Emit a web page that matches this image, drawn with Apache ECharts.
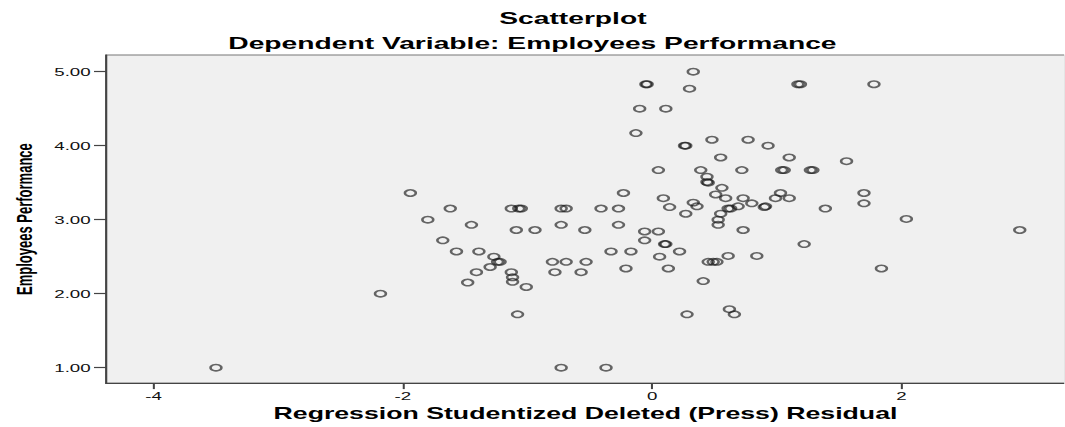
<!DOCTYPE html>
<html><head><meta charset="utf-8">
<script src="https://cdn.jsdelivr.net/npm/echarts@6/dist/echarts.min.js"></script>
<style>
html,body{margin:0;padding:0;background:#fff;overflow:hidden;}
#wrap{width:1065px;height:427px;overflow:hidden;position:relative;}
#chart{width:626.47px;height:427px;transform:scaleX(1.7);transform-origin:0 0;}
</style></head><body>
<div id="wrap"><div id="chart"></div></div>
<script>
// Regression studentized deleted (press) residual (x) and Employees Performance (y)
const residuals = [-3.50,-2.18,-1.94,-1.62,-1.80,-1.45,-1.68,-1.57,-1.39,-1.27,
  -1.22,-1.24,-1.30,-1.41,-1.48,-1.13,-1.12,-1.12,-1.01,-1.13,
  -1.07,-1.05,-1.09,-0.94,-0.73,-0.69,-0.73,-0.54,-0.41,-0.27,
  -0.23,-0.27,-0.80,-0.69,-0.53,-0.78,-0.57,-0.33,-0.17,-0.21,
  -0.06,0.05,-0.06,0.10,0.11,0.22,0.06,0.13,0.09,0.14,
  0.27,0.33,0.36,0.41,0.45,0.49,0.52,0.61,-1.08,-0.73,
  -0.37,0.28,0.62,0.66,0.33,-0.05,-0.04,0.30,-0.10,0.11,
  -0.13,0.26,0.27,0.48,0.55,0.05,0.39,0.44,0.45,0.44,
  0.56,0.51,0.59,0.61,0.55,0.53,0.53,1.17,1.19,1.78,
  0.77,0.93,1.10,1.56,0.72,1.04,1.06,1.27,1.29,0.73,
  0.80,1.03,0.99,1.10,0.90,0.91,0.69,0.63,1.39,1.70,
  1.70,2.04,2.95,0.73,1.22,0.84,1.84];
const performance = [1.00,2.00,3.36,3.15,3.00,2.93,2.72,2.57,2.57,2.50,
  2.43,2.43,2.36,2.29,2.15,2.29,2.22,2.16,2.09,3.15,
  3.15,3.15,2.86,2.86,3.15,3.15,2.93,2.86,3.15,3.15,
  3.36,2.93,2.43,2.43,2.43,2.29,2.29,2.57,2.57,2.34,
  2.84,2.84,2.72,2.67,2.67,2.57,2.50,2.34,3.29,3.17,
  3.08,3.23,3.18,2.17,2.43,2.43,2.43,2.51,1.72,1.00,
  1.00,1.72,1.79,1.72,5.00,4.83,4.83,4.77,4.50,4.50,
  4.17,4.00,4.00,4.08,3.84,3.67,3.67,3.58,3.50,3.51,
  3.43,3.34,3.29,3.15,3.08,3.00,2.93,4.83,4.83,4.83,
  4.08,4.00,3.84,3.79,3.67,3.67,3.67,3.67,3.67,3.29,
  3.22,3.36,3.29,3.29,3.17,3.18,3.18,3.15,3.15,3.36,
  3.22,3.01,2.86,2.86,2.67,2.51,2.34];
const xTicks = [-4, -2, 0, 2];
const yTicks = [1, 2, 3, 4, 5];
const chartTitle = 'Scatterplot';
const chartSubtitle = 'Dependent Variable: Employees Performance';
const xTitle = 'Regression Studentized Deleted (Press) Residual';
const yTitle = 'Employees Performance';

const points = residuals.map((r, i) => [r, performance[i]]);
const FONT = '"Liberation Sans", Arial, sans-serif';

const chart = echarts.init(document.getElementById('chart'), null, {renderer: 'svg', width: 626.47, height: 427});
chart.setOption({
  backgroundColor: '#ffffff',
  animation: false,
  graphic: [
    {type: 'text', x: 337, y: 18, style: {text: chartTitle, fill: '#000', font: 'bold 16.6px ' + FONT, align: 'center', verticalAlign: 'middle'}},
    {type: 'text', x: 313.2, y: 43.5, style: {text: chartSubtitle, fill: '#000', font: 'bold 16.6px ' + FONT, align: 'center', verticalAlign: 'middle'}}
  ],
  grid: {left: 59.41, right: 0, top: 55, bottom: 43, show: true, backgroundColor: '#f0f0f0', borderColor: '#777', borderWidth: 1},
  xAxis: {
    type: 'value', min: -4.383, max: 3.313,
    name: xTitle, nameLocation: 'middle', nameGap: 16,
    nameTextStyle: {fontFamily: FONT, fontWeight: 'bold', fontSize: 15.7, color: '#000'},
    axisLine: {show: true, onZero: false, lineStyle: {color: '#444', width: 1.2}},
    axisTick: {show: true, length: 6, customValues: xTicks, lineStyle: {color: '#444', width: 1.2}},
    axisLabel: {customValues: xTicks, margin: 7, fontFamily: FONT, fontSize: 11, color: '#111'},
    splitLine: {show: false}
  },
  yAxis: {
    type: 'value', min: 0.791, max: 5.225,
    name: yTitle, nameLocation: 'middle', nameGap: 41, nameRotate: 90,
    nameTextStyle: {fontFamily: FONT, fontWeight: 'bold', fontSize: 13, color: '#000'},
    axisLine: {show: true, onZero: false, lineStyle: {color: '#444', width: 1.2}},
    axisTick: {show: true, length: 7, customValues: yTicks, lineStyle: {color: '#444', width: 1.2}},
    axisLabel: {customValues: yTicks, margin: 9, fontFamily: FONT, fontSize: 11, color: '#111', formatter: v => v.toFixed(2)},
    splitLine: {show: false}
  },
  series: [{
    type: 'scatter',
    data: points,
    symbol: 'circle',
    symbolSize: 6.4,
    itemStyle: {color: 'rgba(0,0,0,0)', borderColor: 'rgba(20,20,20,0.8)', borderWidth: 1.5},
    emphasis: {disabled: true}
  }]
});
</script>
</body></html>
